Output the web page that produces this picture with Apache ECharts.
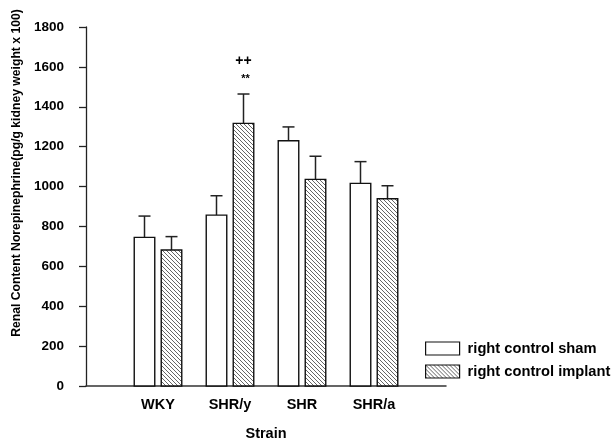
<!DOCTYPE html>
<html><head><meta charset="utf-8">
<script src="https://cdn.jsdelivr.net/npm/echarts@6/dist/echarts.min.js"></script>
<style>html,body{margin:0;padding:0;background:#fff;overflow:hidden}#c{width:614px;height:438px}</style>
</head><body><div id="c"></div>
<script>
const categories = ['WKY', 'SHR/y', 'SHR', 'SHR/a'];
const seriesNames = ['right control sham', 'right control implant'];
const shamMean = [745, 857, 1230, 1016];
const shamSEM = [107, 97, 69, 109];
const implantMean = [682, 1317, 1036, 939];
const implantSEM = [67, 147, 116, 65];
const implantMarkUpper = ['', '++', '', ''];
const implantMarkLower = ['', '**', '', ''];
const yAxisTitle = 'Renal Content Norepinephrine(pg/g kidney weight x 100)';
const xAxisTitle = 'Strain';

const FONT = 'Liberation Sans, Arial, sans-serif';
const BAR_W = 0.285;
const OFFSET = 0.1875;
const CAP = 12;

function hatch() {
  const s = 4;
  const cv = document.createElement('canvas');
  cv.width = s; cv.height = s;
  const g = cv.getContext('2d');
  g.fillStyle = '#fff'; g.fillRect(0, 0, s, s);
  g.strokeStyle = '#555'; g.lineWidth = 0.9;
  g.beginPath();
  g.moveTo(-1, -1); g.lineTo(s + 1, s + 1);
  g.moveTo(-1, s - 1); g.lineTo(1, s + 1);
  g.moveTo(s - 1, -1); g.lineTo(s + 1, 1);
  g.stroke();
  return { image: cv, repeat: 'repeat' };
}
const hatchFill = hatch();

function makeRender(offset, fill, upper, lower) {
  return function (params, api) {
    const x = api.value(0) + offset, m = api.value(1), e = api.value(2);
    const base = api.coord([x, 0]);
    const top = api.coord([x, m]);
    const et = api.coord([x, m + e]);
    const w = api.size([BAR_W, 0])[0];
    const children = [
      { type: 'line', shape: { x1: top[0], y1: top[1], x2: et[0], y2: et[1] },
        style: { stroke: '#222', lineWidth: 1.5 } },
      { type: 'line', shape: { x1: et[0] - CAP / 2, y1: et[1], x2: et[0] + CAP / 2, y2: et[1] },
        style: { stroke: '#222', lineWidth: 1.5 } },
      { type: 'rect', shape: { x: top[0] - w / 2, y: top[1], width: w, height: base[1] - top[1] },
        style: { fill: fill, stroke: '#111', lineWidth: 1.4 } }
    ];
    const i = params.dataIndex;
    if (lower && lower[i]) children.push({ type: 'text', x: et[0] + 2, y: et[1] - 15,
      style: { text: lower[i], font: 'bold 11px ' + FONT, fill: '#000', align: 'center', verticalAlign: 'middle' } });
    if (upper && upper[i]) children.push({ type: 'text', x: et[0], y: et[1] - 33,
      style: { text: upper[i], font: 'bold 14px ' + FONT, fill: '#000', align: 'center', verticalAlign: 'middle' } });
    return { type: 'group', children: children };
  };
}

const shamData = categories.map((c, i) => [i + 1, shamMean[i], shamSEM[i]]);
const implantData = categories.map((c, i) => [i + 1, implantMean[i], implantSEM[i]]);

const chart = echarts.init(document.getElementById('c'), null, { renderer: 'canvas' });
chart.setOption({
  animation: false,
  backgroundColor: '#fff',
  grid: { left: 86, right: 168, top: 27, bottom: 52, containLabel: false, outerBoundsMode: 'none' },
  xAxis: {
    type: 'value', min: 0, max: 5, interval: 1,
    axisLine: { show: true, onZero: false, lineStyle: { color: '#333', width: 1.5 } },
    axisTick: { show: false }, splitLine: { show: false },
    axisLabel: { formatter: v => categories[v - 1] || '', margin: 11,
      fontFamily: FONT, fontWeight: 'bold', fontSize: 14.5, color: '#000' },
    name: xAxisTitle, nameLocation: 'middle', nameGap: 40,
    nameTextStyle: { fontFamily: FONT, fontWeight: 'bold', fontSize: 14.5, color: '#000' }
  },
  yAxis: {
    type: 'value', min: 0, max: 1800, interval: 200, offset: 7,
    axisLine: { show: true, lineStyle: { color: '#222', width: 1.3 } },
    axisTick: { show: true, length: 7, lineStyle: { color: '#222', width: 1.3 } },
    splitLine: { show: false },
    axisLabel: { margin: 15, formatter: v => String(v), fontFamily: FONT, fontWeight: 'bold', fontSize: 13.5, color: '#000' }
  },
  legend: {
    orient: 'vertical', left: 425, top: 341, padding: 0, itemWidth: 34, itemHeight: 13, itemGap: 8,
    textStyle: { fontFamily: FONT, fontWeight: 'bold', fontSize: 14.7, color: '#000', padding: [0, 0, 0, 3] },
    data: [
      { name: seriesNames[0], icon: 'rect', itemStyle: { color: '#fff', borderColor: '#111', borderWidth: 1.2 } },
      { name: seriesNames[1], icon: 'rect', itemStyle: { color: hatchFill, borderColor: '#111', borderWidth: 1.2 } }
    ]
  },
  graphic: [{
    type: 'text', x: 17, y: 173, rotation: Math.PI / 2,
    style: { text: yAxisTitle, font: 'bold 12.2px ' + FONT, fill: '#000', align: 'center', verticalAlign: 'middle' }
  }],
  series: [
    { name: seriesNames[0], type: 'custom', data: shamData, itemStyle: { color: '#fff', borderColor: '#111' },
      encode: { x: 0, y: 1 }, renderItem: makeRender(-OFFSET, '#fff', null, null) },
    { name: seriesNames[1], type: 'custom', data: implantData, itemStyle: { color: hatchFill, borderColor: '#111' },
      encode: { x: 0, y: 1 }, renderItem: makeRender(OFFSET, hatchFill, implantMarkUpper, implantMarkLower) }
  ]
});
</script></body></html>
